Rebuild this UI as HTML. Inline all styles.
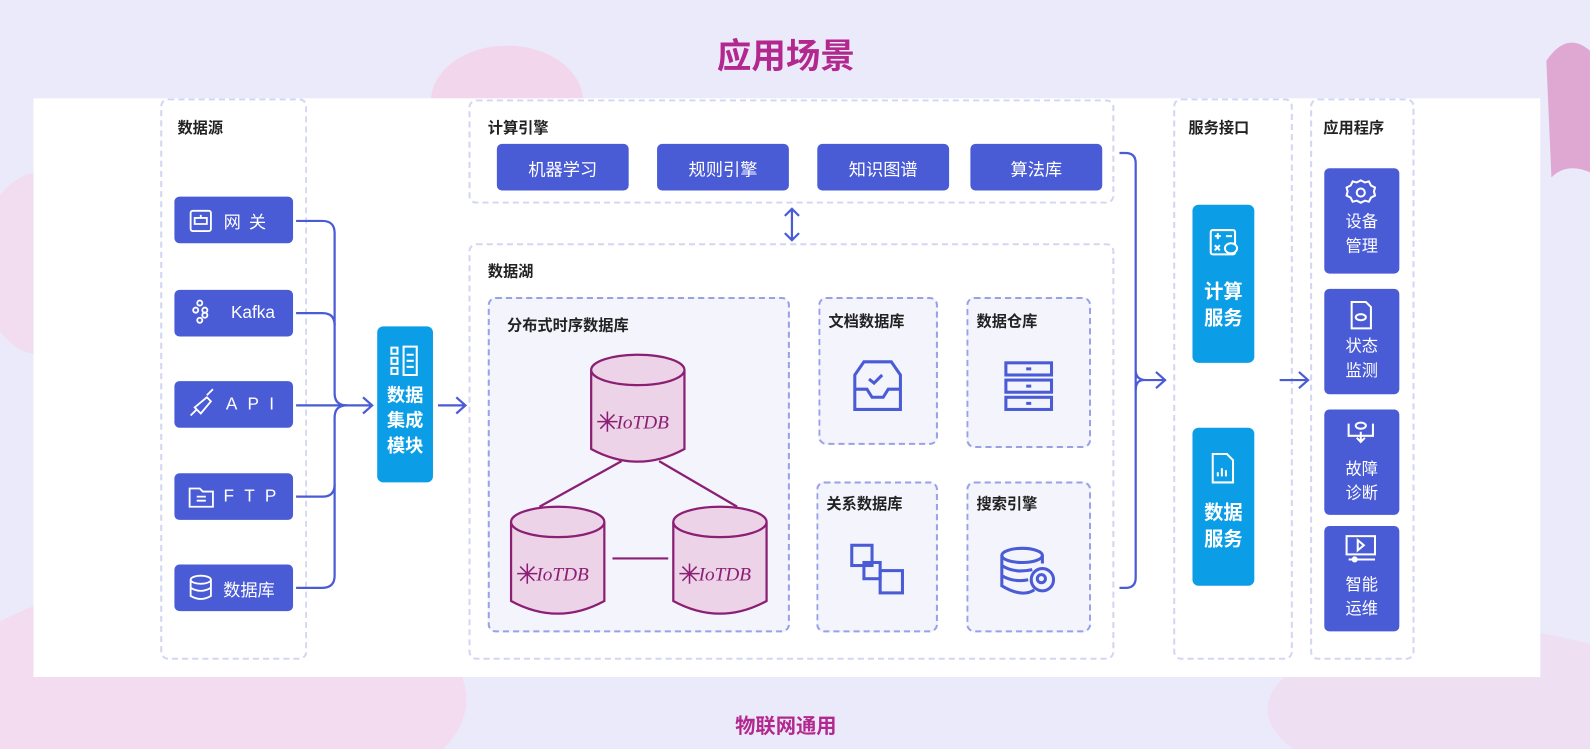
<!DOCTYPE html>
<html style="width:1590px;height:749px;overflow:hidden"><head><meta charset="utf-8"><style>
*{margin:0;padding:0;box-sizing:border-box}
body{width:1590px;height:749px;overflow:hidden;position:relative;background:#ebeafa;font-family:"Liberation Sans","Noto Sans CJK SC",sans-serif}
#w{position:absolute;left:0;top:0;width:1568px;height:739px;transform:scale(1.0140,1.0135);transform-origin:0 0;overflow:hidden}
.a{position:absolute}
.panel{left:33px;top:97px;width:1486px;height:571px;background:#fff}
.dash{border:2px dashed #d3d6f2;border-radius:8px}
.dash2{border:2px dashed #98a1e6;border-radius:8px;background:#f4f4fc}
.lbl{font-size:15px;font-weight:bold;color:#222}
.b{background:#4a5bd6;color:#fff;border-radius:5px;display:flex;align-items:center;justify-content:center;font-size:17px}
.c{background:#0b9ee6;color:#fff;border-radius:6px;text-align:center;font-weight:bold}
.app{font-size:16px;line-height:24px;text-align:center}
</style></head><body><div id="w">
<svg class="a" style="left:0;top:0" width="1568" height="739">
<ellipse cx="500" cy="100" rx="75" ry="55" fill="#f1d6ec"/>
<path d="M1525 60 Q1545 30 1568 50 L1568 170 Q1545 160 1530 175 Z" fill="#dea8d2"/>
<ellipse cx="200" cy="690" rx="260" ry="120" fill="#f3dcef"/>
<ellipse cx="40" cy="260" rx="60" ry="90" fill="#f1dcf0"/>
<ellipse cx="1450" cy="700" rx="200" ry="80" fill="#efdff3"/>
</svg>
<div class="a" style="left:0;top:28px;width:1550px;text-align:center;font-size:34px;font-weight:bold;color:#b3288e">应用场景</div>
<div class="a panel"></div>
<div class="a" style="left:0;top:700px;width:1550px;text-align:center;font-size:20px;font-weight:bold;color:#b3288e">物联网通用</div>

<div class="a dash" style="left:158px;top:97px;width:145px;height:554px"></div>
<div class="a lbl" style="left:175px;top:115px">数据源</div>
<div class="a b" style="left:172px;top:194px;width:117px;height:46px;letter-spacing:8px;padding-left:30px">网关</div>
<div class="a b" style="left:172px;top:286px;width:117px;height:46px;padding-left:38px">Kafka</div>
<div class="a b" style="left:172px;top:376px;width:117px;height:46px;letter-spacing:10px;padding-left:42px">API</div>
<div class="a b" style="left:172px;top:467px;width:117px;height:46px;letter-spacing:10px;padding-left:42px">FTP</div>
<div class="a b" style="left:172px;top:557px;width:117px;height:46px;padding-left:30px">数据库</div>

<div class="a c" style="left:372px;top:322px;width:55px;height:154px;font-size:18px;line-height:25px;padding-top:56px">数据<br>集成<br>模块</div>

<div class="a dash" style="left:462px;top:98px;width:637px;height:103px"></div>
<div class="a lbl" style="left:481px;top:115px">计算引擎</div>
<div class="a b" style="left:490px;top:142px;width:130px;height:46px">机器学习</div>
<div class="a b" style="left:648px;top:142px;width:130px;height:46px">规则引擎</div>
<div class="a b" style="left:806px;top:142px;width:130px;height:46px">知识图谱</div>
<div class="a b" style="left:957px;top:142px;width:130px;height:46px">算法库</div>

<div class="a dash" style="left:462px;top:240px;width:637px;height:411px"></div>
<div class="a lbl" style="left:481px;top:257px">数据湖</div>
<div class="a dash2" style="left:481px;top:293px;width:298px;height:331px"></div>
<div class="a lbl" style="left:500px;top:310px">分布式时序数据库</div>
<div class="a dash2" style="left:807px;top:293px;width:118px;height:146px"></div>
<div class="a lbl" style="left:817px;top:306px">文档数据库</div>
<div class="a dash2" style="left:953px;top:293px;width:123px;height:149px"></div>
<div class="a lbl" style="left:963px;top:306px">数据仓库</div>
<div class="a dash2" style="left:805px;top:475px;width:120px;height:149px"></div>
<div class="a lbl" style="left:815px;top:486px">关系数据库</div>
<div class="a dash2" style="left:953px;top:475px;width:123px;height:149px"></div>
<div class="a lbl" style="left:963px;top:486px">搜索引擎</div>

<div class="a dash" style="left:1157px;top:97px;width:118px;height:554px"></div>
<div class="a lbl" style="left:1172px;top:115px">服务接口</div>
<div class="a c" style="left:1176px;top:202px;width:61px;height:156px;font-size:19px;line-height:26px;padding-top:74px">计算<br>服务</div>
<div class="a c" style="left:1176px;top:422px;width:61px;height:156px;font-size:19px;line-height:26px;padding-top:72px">数据<br>服务</div>

<div class="a dash" style="left:1292px;top:97px;width:103px;height:554px"></div>
<div class="a lbl" style="left:1305px;top:115px">应用程序</div>
<div class="a b app" style="left:1306px;top:166px;width:74px;height:104px;padding-top:42px;display:block">设备<br>管理</div>
<div class="a b app" style="left:1306px;top:285px;width:74px;height:104px;padding-top:46px;display:block">状态<br>监测</div>
<div class="a b app" style="left:1306px;top:404px;width:74px;height:104px;padding-top:48px;display:block">故障<br>诊断</div>
<div class="a b app" style="left:1306px;top:519px;width:74px;height:104px;padding-top:47px;display:block">智能<br>运维</div>

<svg class="a" style="left:0;top:0" width="1568" height="739" fill="none">
<g stroke="#4a5bd6" stroke-width="2.2">
<path d="M292 218 H318 Q330 218 330 230 V388 Q330 400 342 400"/>
<path d="M292 309 H318 Q330 309 330 321"/>
<path d="M292 400 H366"/>
<path d="M292 490 H318 Q330 490 330 478 V412 Q330 400 342 400"/>
<path d="M292 580 H318 Q330 580 330 568 V478"/>
<path d="M358 392 L367 400 L358 408"/>
<path d="M432 400 H458 M450 392 L459 400 L450 408"/>
<path d="M781 206 V237 M774 213 L781 206 L788 213 M774 230 L781 237 L788 230"/>
<path d="M1104 151 H1110 Q1120 151 1120 161 V365 Q1120 375 1130 375 H1148 M1140 367 L1149 375 L1140 383 M1120 365 V570 Q1120 580 1110 580 H1104"/>
<path d="M1128 375 Q1120 375 1120 385"/>
<path d="M1262 375 H1289 M1281 367 L1290 375 L1281 383"/>
</g>
<g stroke="#fff" stroke-width="1.8">
<rect x="188" y="208" width="20" height="20" rx="2"/><path d="M192 215 H204 V221 H192 Z M198 212 V215"/>
<circle cx="197" cy="299" r="2.5"/><circle cx="193" cy="306" r="2.5"/><circle cx="202" cy="306" r="2.5"/><circle cx="197" cy="316" r="2.5"/><circle cx="202" cy="311" r="2.5"/>
<path d="M188 410 L194 404 M192 402 L204 392 L208 396 L198 408 Z M204 390 L210 384"/>
<path d="M187 482 H197 L200 485 H210 V500 H187 Z M194 490 H203 M194 494 H203"/>
<ellipse cx="198" cy="572" rx="10" ry="4"/><path d="M188 572 V588 Q198 594 208 588 V572 M188 580 Q198 586 208 580"/>
</g>
<g stroke="#fff" stroke-width="2">
<path d="M386 343 h6 v6 h-6z M386 353 h6 v6 h-6z M386 363 h6 v6 h-6z M398 342 h13 v28 h-13z M401 350 h7 M401 356 h7 M401 362 h7"/>
<rect x="1194" y="227" width="24" height="24" rx="2"/><path d="M1198 233 h6 M1201 230 v6 M1209 233 h6 M1198 242 l5 5 M1203 242 l-5 5"/><ellipse cx="1214" cy="245" rx="6" ry="5" fill="#0b9ee6"/>
<path d="M1196 448 h14 l6 6 v22 h-20z M1201 470 v-4 M1205 470 v-8 M1209 470 v-6"/>
<circle cx="1342" cy="190" r="4"/><path d="M1342 178 l4 2 4 -1 2 4 4 2 -1 4 1 4 -4 2 -2 4 -4 -1 -4 2 -4 -2 -4 1 -2 -4 -4 -2 1 -4 -1 -4 4 -2 2 -4 4 1z"/>
<path d="M1333 298 h14 l5 5 v21 h-19z"/><ellipse cx="1342" cy="313" rx="5" ry="3"/>
<path d="M1330 418 v12 h24 v-12 M1342 426 v10 M1338 432 l4 4 4 -4"/><ellipse cx="1342" cy="420" rx="5" ry="3"/>
<rect x="1328" y="529" width="28" height="18"/><path d="M1339 533 l6 5 -6 5z M1330 552 h26"/><circle cx="1336" cy="552" r="2"/>
</g>
<g stroke="#4a5bd6" stroke-width="3">
<path d="M843 384 V370 L852 357 H879 L888 370 V404 H843 Z M843 384 H855 L860 392 H871 L876 384 H888"/><path d="M857 374 l5 4 8 -8"/>
<rect x="992" y="358" width="45" height="12"/><rect x="992" y="375" width="45" height="12"/><rect x="992" y="392" width="45" height="12"/>
<path d="M1012 364h5M1012 381h5M1012 398h5"/>
<rect x="840" y="538" width="20" height="20"/><rect x="852" y="555" width="16" height="16"/><rect x="868" y="563" width="22" height="22"/>
<ellipse cx="1008" cy="548" rx="20" ry="7"/><path d="M988 548 V578 Q1008 590 1020 582 M988 558 Q1000 566 1018 562 M988 568 Q1000 575 1014 572 M1028 548 V556"/>
<circle cx="1028" cy="572" r="11"/><circle cx="1027" cy="571" r="4"/>
</g>
<g stroke="#8a1f74" stroke-width="2.2" fill="#ecd3e7">
<path d="M613 455 L532 500 M650 455 L727 500 M604 551 H659"/>
<path d="M583 365 V443 Q629 468 675 443 V365"/><ellipse cx="629" cy="365" rx="46" ry="15"/>
<path d="M504 515 V593 Q550 618 596 593 V515"/><ellipse cx="550" cy="515" rx="46" ry="15"/>
<path d="M664 515 V593 Q710 618 756 593 V515"/><ellipse cx="710" cy="515" rx="46" ry="15"/>
</g>
<g fill="#8a1f74" font-family="Liberation Serif,serif" font-style="italic" font-size="19">
<text x="608" y="423">IoTDB</text><text x="529" y="573">IoTDB</text><text x="689" y="573">IoTDB</text>
</g>
<g stroke="#8a1f74" stroke-width="1.5">
<path d="M592 409 l14 14 M606 409 l-14 14 M599 406 v20 M589 416 h20"/>
<path d="M513 559 l14 14 M527 559 l-14 14 M520 556 v20 M510 566 h20"/>
<path d="M673 559 l14 14 M687 559 l-14 14 M680 556 v20 M670 566 h20"/>
</g>
</svg>
</div></body></html>
